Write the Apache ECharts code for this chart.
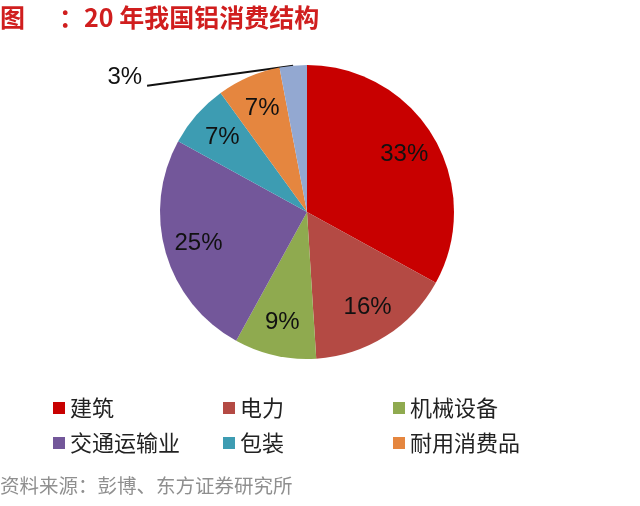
<!DOCTYPE html>
<html>
<head>
<meta charset="utf-8">
<script src="https://cdn.jsdelivr.net/npm/echarts@6/dist/echarts.min.js"></script>
<style>html,body{margin:0;padding:0;background:#fff}#c{width:640px;height:506px}</style>
</head>
<body>
<div id="c"></div>
<script>
const categories = ['建筑', '电力', '机械设备', '交通运输业', '包装', '耐用消费品', '其他'];
const values = [33, 16, 9, 25, 7, 7, 3];
const legendRow1 = ['建筑', '电力', '机械设备'];
const legendRow2 = ['交通运输业', '包装', '耐用消费品'];
const colors = ['#C80000', '#B44A44', '#8FAA4F', '#73579A', '#3D9CB2', '#E5863F', '#93A8D1'];
const titleText = '图      ：20 年我国铝消费结构';
const sourceText = '资料来源：彭博、东方证券研究所';

const chart = echarts.init(document.getElementById('c'), null, {renderer: 'canvas'});
const numFont = '"Liberation Sans", Arial, sans-serif';
const cjkFont = '"Noto Sans CJK SC", "Noto Sans", sans-serif';
const OUTSIDE_IDX = 6;

const mainData = categories.map((n, i) => {
  const d = {name: n, value: values[i], itemStyle: {color: colors[i]}};
  if (i === OUTSIDE_IDX) {
    d.label = {show: true, position: 'outside', formatter: '{c}%', fontSize: 24, color: '#111', fontFamily: numFont};
    d.labelLine = {show: true, length: 1, length2: 146, lineStyle: {color: '#111', width: 2}};
  }
  return d;
});
const overlayData = categories.map((n, i) => ({
  name: n, value: values[i],
  label: {show: i !== OUTSIDE_IDX}
}));

function legendRow(data, top) {
  return {
    data: data,
    left: 53, top: top, padding: 0, width: 510,
    icon: 'rect', itemWidth: 12, itemHeight: 12, itemGap: 20,
    textStyle: {fontSize: 22, color: '#222', fontFamily: cjkFont, width: 133, lineHeight: 16, padding: [0, 0, 0, 0]}
  };
}

chart.setOption({
  backgroundColor: '#fff',
  animation: false,
  title: [{
    text: titleText, left: 0, top: 5, padding: 0,
    textStyle: {color: '#D01E1E', fontSize: 25, fontWeight: 'bold', fontFamily: cjkFont}
  }, {
    text: sourceText, left: 0, top: 476, padding: 0,
    textStyle: {color: '#8f8f8f', fontSize: 19.5, fontWeight: 'normal', fontFamily: cjkFont}
  }],
  legend: [legendRow(legendRow1, 397), legendRow(legendRow2, 432)],
  series: [{
    type: 'pie', center: [307, 212], radius: [0, 147], startAngle: 90, clockwise: true,
    silent: true, avoidLabelOverlap: false,
    label: {show: false},
    labelLine: {show: false},
    itemStyle: {borderWidth: 0},
    labelLayout: function (p) {
      if (p.dataIndex !== OUTSIDE_IDX || !p.labelLinePoints) return {};
      const pts = p.labelLinePoints;
      const last = pts[pts.length - 1];
      return {dy: 13, labelLinePoints: [pts[0], [last[0], last[1] + 21]]};
    },
    data: mainData
  }, {
    type: 'pie', center: [307, 212], radius: [73, 147], startAngle: 90, clockwise: true,
    silent: true, avoidLabelOverlap: false,
    itemStyle: {color: 'rgba(0,0,0,0)', borderWidth: 0},
    label: {show: true, position: 'inside', formatter: '{c}%', fontSize: 24, color: '#111', fontFamily: numFont},
    labelLine: {show: false},
    data: overlayData
  }]
});
</script>
</body>
</html>
